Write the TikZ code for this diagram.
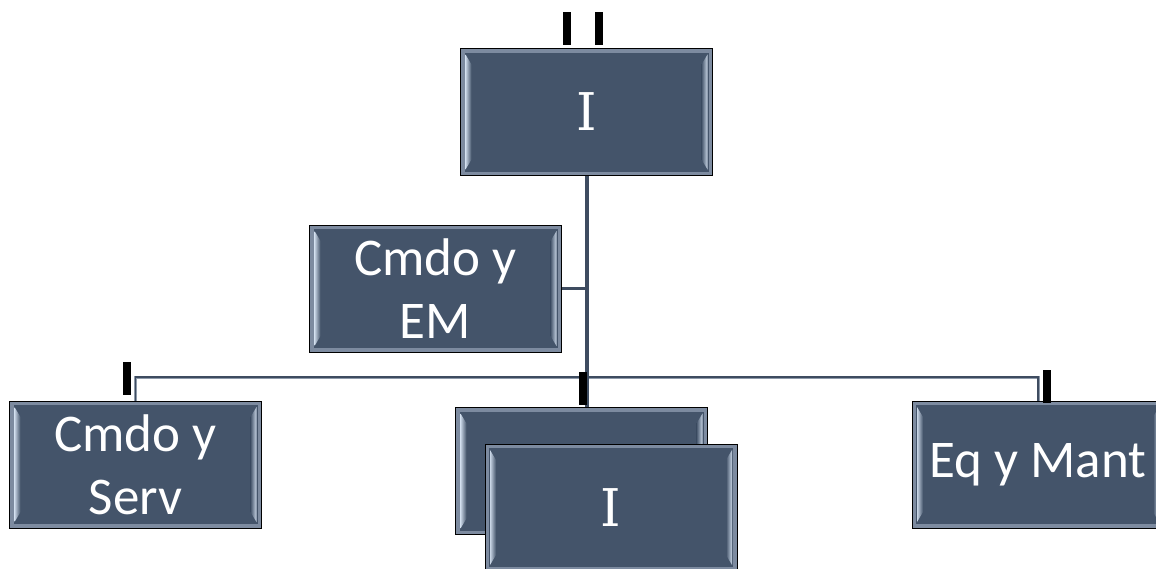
\documentclass[tikz,border=0pt]{standalone}
\usepackage{fontspec}
\setmainfont{Carlito}
\newfontfamily\serifI{DejaVu Serif}
\usetikzlibrary{calc,backgrounds}

\definecolor{slate}{HTML}{44546A}
\definecolor{framegray}{HTML}{7D8BA0}
\definecolor{bevelhi}{HTML}{C9D6E6}
\definecolor{trunk}{HTML}{3E4C60}
\definecolor{branchedge}{HTML}{8E9AAA}

\tikzset{
  orgbox/.style={
    draw=black, line width=1pt, fill=slate,
    minimum width=252pt, minimum height=127pt, inner sep=0pt,
    text=white, align=center,
    font=\fontsize{53}{63}\selectfont,
    path picture={
      \fill[framegray] (path picture bounding box.south west) rectangle (path picture bounding box.north east);
      \fill[slate] ([shift={(4pt,4pt)}]path picture bounding box.south west)
        rectangle ([shift={(-4pt,-4pt)}]path picture bounding box.north east);
      \shade[left color=bevelhi, right color=slate]
        ([shift={(5pt,-6pt)}]path picture bounding box.north west)
        -- ([shift={(11pt,-16pt)}]path picture bounding box.north west)
        -- ([shift={(11pt,16pt)}]path picture bounding box.south west)
        -- ([shift={(5pt,6pt)}]path picture bounding box.south west) -- cycle;
      \shade[right color=bevelhi, left color=slate]
        ([shift={(-5pt,-6pt)}]path picture bounding box.north east)
        -- ([shift={(-11pt,-16pt)}]path picture bounding box.north east)
        -- ([shift={(-11pt,16pt)}]path picture bounding box.south east)
        -- ([shift={(-5pt,6pt)}]path picture bounding box.south east) -- cycle;
    }},
  romanI/.style={font=\serifI\fontsize{52}{52}\selectfont},
  trunkline/.style={draw=trunk, line width=4pt},
  branchline/.style={draw=branchedge, line width=0.8pt, double=trunk, double distance=1.4pt},
  tick/.style={fill=black, draw=none, minimum width=8pt, minimum height=33pt, inner sep=0pt}
}

\begin{document}
\begin{tikzpicture}[x=1pt,y=-1pt]
  \useasboundingbox (0,0) rectangle (1156,568);
  \clip (0,0) rectangle (1156,568);

  % junction where the branches leave the trunk
  \coordinate (hub) at (586.5,377);

  % units
  \node[orgbox, romanI] (top) at (586.5,112) {I};
  \node[orgbox] (em) at (435.5,288.5) {Cmdo y\\EM};
  \node[orgbox] (serv) at (135.5,464.5) {Cmdo y\\Serv};
  \node[orgbox] (eq) at (1038,464.5) {Eq y Mant};
  \node[orgbox] (midback) at (581.5,471) {};
  \node[orgbox, romanI] (midfront) at (611,507.5) {I};

  % connectors, kept beneath the boxes
  \begin{scope}[on background layer]
    \draw[branchline] (serv.north) |- (hub) -| (eq.north);
    \draw[trunkline] (top.south) -- (top.south |- midback.north);
    \draw[trunkline, line width=3pt] (em.east) -- (em.east -| top.south);
  \end{scope}

  % size marks
  \node[tick] (tickA) at (567,28) {};
  \node[tick] (tickB) at (599,28) {};
  \node[tick] (tickS) at (127,378) {};
  \node[tick] (tickM) at (583,388) {};
  \node[tick] (tickE) at (1047,386) {};
\end{tikzpicture}
\end{document}
